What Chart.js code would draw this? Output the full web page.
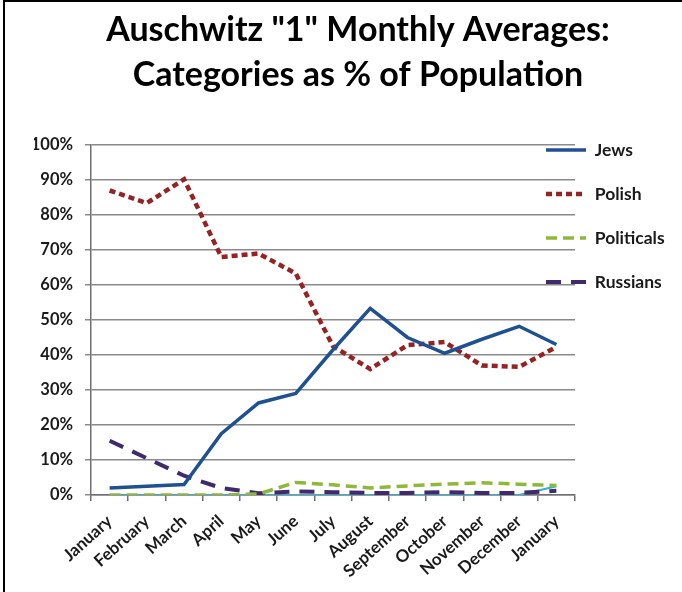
<!DOCTYPE html>
<html>
<head>
<meta charset="utf-8">
<title>Auschwitz "1" Monthly Averages</title>
<script src="https://cdn.jsdelivr.net/npm/chart.js@4.4.1/dist/chart.umd.min.js"></script>
<style>
  html, body { margin: 0; padding: 0; background: #fff; }
  #wrap { position: relative; width: 682px; height: 592px; }
  #frame { position: absolute; left: 3px; top: 0; right: 0; bottom: 0; border-left: 2px solid #000; border-top: 2px solid #000; pointer-events: none; }
</style>
</head>
<body>
<div id="wrap">
  <canvas id="chart" width="682" height="592"></canvas>
  <div id="frame"></div>
</div>
<script>
const months = ['January', 'February', 'March', 'April', 'May', 'June', 'July', 'August', 'September', 'October', 'November', 'December', 'January'];
const jews = [2, 2.5, 3, 17.5, 26.3, 29, 41.5, 53.3, 45, 40.5, 44.5, 48.2, 43];
const polish = [87, 83.4, 90.2, 68, 69, 63.3, 42.5, 36, 42.8, 43.7, 37, 36.6, 42.3];
const politicals = [0, 0, 0, 0, 0.3, 3.6, 2.9, 2, 2.6, 3.1, 3.5, 3.1, 2.7];
const russians = [15.5, 10.5, 5.5, 2, 0.5, 1, 0.8, 0.6, 0.6, 0.8, 0.6, 0.6, 1.2];
const others = [0, 0, 0, 0, 0, 0, 0, 0, 0, 0, 0, 0, 2.5];

const fontFamily = 'Lato, "DejaVu Sans", sans-serif';
const textColor = '#1a1a1a';
const axisColor = '#707070';
const gridColor = '#8a8a8a';

function series(label, data, color, width, dash) {
    return {
        label,
        data,
        borderColor: color,
        backgroundColor: color,
        borderWidth: width,
        borderDash: dash,
        pointRadius: 0,
        pointHoverRadius: 0,
        tension: 0,
        fill: false,
    };
}

// the original legend sits on top of the right end of the plot, Excel style
const overlayLegend = {
    id: 'overlayLegend',
    afterLayout(chart) {
        const legend = chart.legend;
        const area = chart.chartArea;
        const pad = legend.options.labels.padding;
        const fontSize = legend.options.labels.font.size;
        legend.left = area.right - 29 - pad;
        legend.top = area.top + 5 - fontSize / 2 - pad;
    }
};

const ctx = document.getElementById('chart').getContext('2d');
new Chart(ctx, {
    type: 'line',
    data: {
        labels: months,
        datasets: [
            series('Jews', jews, '#1f5192', 3.5, []),
            series('Polish', polish, '#962323', 4.5, [6, 4]),
            series('Politicals', politicals, '#8db83a', 3.5, [11, 6]),
            series('Russians', russians, '#3f2a6e', 4, [15, 10]),
            series('Others', others, '#33b0c8', 2, []),
        ],
    },
    plugins: [overlayLegend],
    options: {
        responsive: false,
        animation: false,
        layout: {
            padding: { left: 34, right: 0, top: 0, bottom: 0 },
        },
        plugins: {
            tooltip: { enabled: false },
            title: {
                display: true,
                text: ['Auschwitz "1" Monthly Averages:', 'Categories as % of Population'],
                color: '#000',
                font: { family: fontFamily, size: 34, weight: 'bold', lineHeight: 1.3235 },
                padding: { top: 8, bottom: 47 },
            },
            legend: {
                position: 'right',
                align: 'start',
                fullSize: false,
                maxWidth: 107,
                labels: {
                    usePointStyle: true,
                    pointStyle: 'line',
                    pointStyleWidth: 40,
                    boxWidth: 40,
                    padding: 26.5,
                    color: textColor,
                    font: { family: fontFamily, size: 17.5, weight: 'bold' },
                    filter: (item) => item.text !== 'Others',
                    generateLabels(chart) {
                        return chart.data.datasets.map((ds, i) => ({
                            text: ds.label,
                            datasetIndex: i,
                            strokeStyle: ds.borderColor,
                            fillStyle: ds.borderColor,
                            lineWidth: ds.borderWidth,
                            lineDash: ds.borderDash,
                            pointStyle: 'line',
                            fontColor: textColor,
                            hidden: false,
                        }));
                    },
                },
            },
        },
        scales: {
            x: {
                offset: true,
                grid: {
                    offset: true,
                    drawOnChartArea: false,
                    drawTicks: true,
                    tickLength: 6,
                    color: axisColor,
                    lineWidth: 1.5,
                },
                border: { color: axisColor, width: 1.5 },
                ticks: {
                    autoSkip: false,
                    minRotation: 42,
                    maxRotation: 42,
                    padding: 10,
                    color: textColor,
                    font: { family: fontFamily, size: 17, weight: 'bold' },
                },
                afterFit(scale) {
                    scale.height = 97;
                },
            },
            y: {
                min: 0,
                max: 100,
                ticks: {
                    stepSize: 10,
                    padding: 12,
                    color: textColor,
                    font: { family: fontFamily, size: 16.5, weight: 'bold' },
                    callback: (value) => value + '%',
                },
                grid: {
                    color: gridColor,
                    lineWidth: 1.5,
                    tickLength: 6,
                },
                border: { color: axisColor, width: 1.5 },
                afterFit(scale) {
                    scale.width = 57;
                },
            },
        },
    },
});
</script>
</body>
</html>
